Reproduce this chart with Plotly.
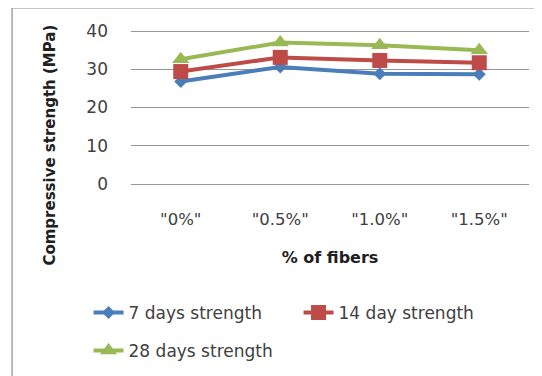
import plotly.graph_objects as go

categories = ['"0%"', '"0.5%"', '"1.0%"', '"1.5%"']
strength_7 = [26.8, 30.6, 28.8, 28.7]
strength_14 = [29.4, 33.1, 32.3, 31.7]
strength_28 = [32.6, 37.0, 36.3, 35.0]
series_names = ["7 days strength", "14 day strength", "28 days strength"]
y_ticks = [0, 10, 20, 30, 40]

colors = ["#4A7EBB", "#BE4B48", "#98B954"]
symbols = ["diamond", "square", "triangle-up"]
sizes = [10, 15, 15]
legends = ["legend", "legend", "legend2"]

fig = go.Figure()
for name, vals, c, s, sz, lg in zip(series_names, [strength_7, strength_14, strength_28],
                                     colors, symbols, sizes, legends):
    fig.add_trace(go.Scatter(
        x=categories, y=vals, name=name, mode="lines+markers",
        line=dict(color=c, width=4),
        marker=dict(symbol=s, size=sz, color=c),
        legend=lg,
    ))

# the page body has an 8px default margin; work in screen pixels and convert
OFF = 8
PAD = 2
W, H = 542 - OFF, 376 - OFF
L, R, T, B = 130.5 - OFF, 13, 31 - OFF - PAD, 192 - PAD
pw, ph = W - L - R, H - T - B


def px_x(x):
    return (x - OFF - L) / pw


def px_y(y):
    return (H - B - (y - OFF)) / ph


fig.add_shape(type="rect", xref="paper", yref="paper",
              x0=px_x(11.4), x1=1.3, y0=-2.0, y1=px_y(8),
              line=dict(color="#8C8C8C", width=1.2), fillcolor="rgba(0,0,0,0)", layer="below")

fig.add_annotation(text="<b>Compressive strength (MPa)</b>", textangle=-90,
                   xref="paper", yref="paper", x=px_x(49), y=px_y(145),
                   xanchor="center", yanchor="middle", showarrow=False,
                   font=dict(size=15, color="#202020"))

font = "DejaVu Sans"
legend_common = dict(orientation="h", xanchor="left", yanchor="middle",
                     font=dict(size=17, color="#404040"), bgcolor="rgba(0,0,0,0)")
pad_val = 40 * PAD / 153
fig.update_layout(
    width=W, height=H,
    margin=dict(l=L, r=R, t=T, b=B, autoexpand=False),
    paper_bgcolor="white", plot_bgcolor="white",
    font=dict(family=font, size=16, color="#404040"),
    showlegend=True,
    legend=dict(x=px_x(88), y=px_y(313), entrywidth=165, entrywidthmode="pixels", **legend_common),
    legend2=dict(x=px_x(88), y=px_y(351), **legend_common),
    xaxis=dict(type="category", range=[-0.5, 3.5], showgrid=False, showline=False, zeroline=False,
               ticks="", ticklabelstandoff=21, tickfont=dict(size=16.5), automargin=False,
               title=dict(text="<b>% of fibers</b>", font=dict(size=16, color="#202020"), standoff=24)),
    yaxis=dict(range=[-pad_val, 40 + pad_val], tickvals=y_ticks, showgrid=True,
               gridcolor="#969696", gridwidth=1,
               zeroline=False, showline=False, ticks="", ticklabelstandoff=22, tickfont=dict(size=17),
               automargin=False),
)
fig.write_html("out.html")
